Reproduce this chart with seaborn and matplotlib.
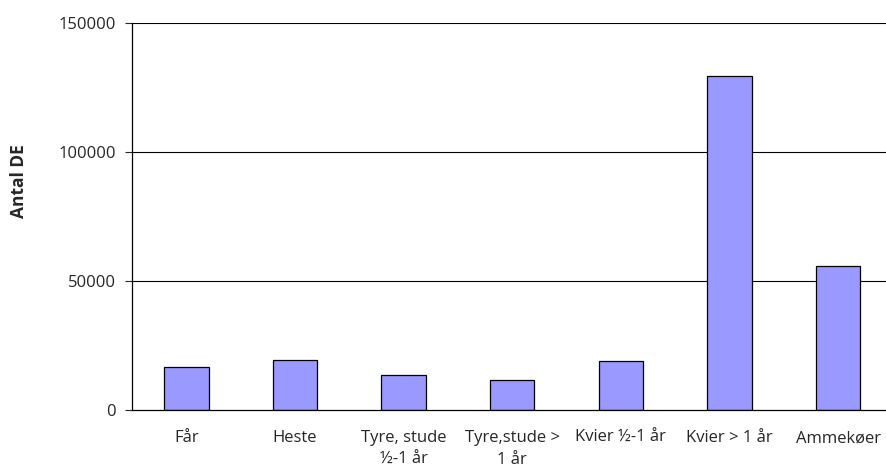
import matplotlib
matplotlib.use("Agg")
import matplotlib.pyplot as plt
import seaborn as sns
import pandas as pd
from matplotlib.ticker import FixedLocator

categories = ["Får", "Heste", "Tyre, stude\n½-1 år", "Tyre,stude >\n1 år",
              "Kvier ½-1 år", "Kvier > 1 år", "Ammekøer"]
antal_de = [16800, 19400, 13400, 11600, 19100, 129500, 56000]
y_ticks = [0, 50000, 100000, 150000]

sns.set_style("white")
plt.rcParams['font.family'] = ['Open Sans', 'DejaVu Sans']

df = pd.DataFrame({"kategori": categories, "antal": antal_de})

fig = plt.figure(figsize=(8.87, 4.69), dpi=100)
ax = fig.add_axes([0.1488, 0.1258, 0.8512, 0.825])

sns.barplot(data=df, x="kategori", y="antal", color="#9999FF",
            saturation=1, width=0.41, edgecolor="black", linewidth=0.9, ax=ax)

ax.set_ylim(0, 150000)
ax.set_xlim(-0.5, 6.45)
ax.set_yticks(y_ticks)
ax.set_yticklabels([str(v) for v in y_ticks], fontsize=12)
for v in y_ticks[1:]:
    ax.axhline(v, color="black", linewidth=0.8, zorder=0)

ax.set_xlabel("")
ax.set_ylabel("Antal DE", fontsize=12.5, fontweight="bold")
ax.yaxis.set_label_coords(-0.138, 0.592)
ax.tick_params(axis="x", which="major", length=0, labelsize=12, pad=14.5)
for lbl in ax.get_xticklabels():
    lbl.set_linespacing(1.45)
ax.xaxis.set_minor_locator(FixedLocator([i + 0.5 for i in range(7)]))
ax.tick_params(axis="x", which="minor", length=5, width=0.8, direction="out")
ax.tick_params(axis="y", length=5, width=0.8, direction="out", left=True, pad=6.5)

for side in ["top", "right"]:
    ax.spines[side].set_visible(False)
for side in ["left", "bottom"]:
    ax.spines[side].set_color("black")
    ax.spines[side].set_linewidth(0.9)

fig.savefig("out.png", dpi=100)
